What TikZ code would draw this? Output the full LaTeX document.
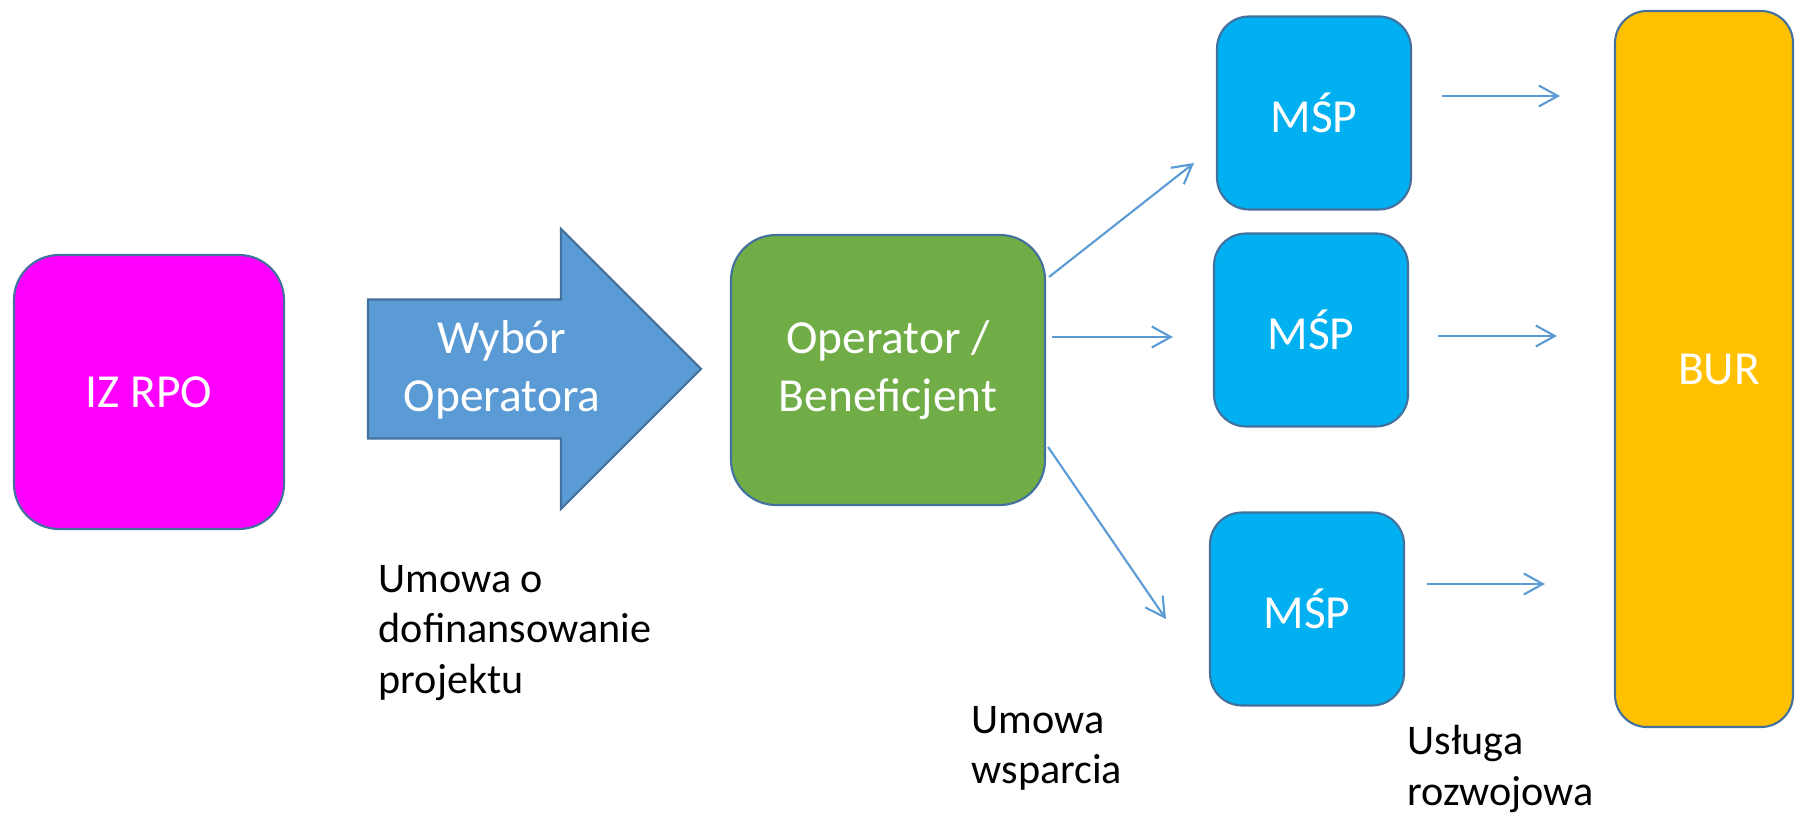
\documentclass[tikz,border=0pt]{standalone}
\usepackage{fontspec}
\setmainfont{Carlito}
\usetikzlibrary{calc}
\usetikzlibrary{arrows.meta}

\definecolor{edgeblue}{HTML}{41719C}
\definecolor{flowblue}{HTML}{5B9BD5}
\definecolor{izpink}{HTML}{FF00FF}
\definecolor{opgreen}{HTML}{70AD47}
\definecolor{mspblue}{HTML}{00B0F0}
\definecolor{burgold}{HTML}{FFC000}

\tikzset{
    block/.style = {rectangle, draw = edgeblue, line width = 0.6pt, text = white, align = center,
        font = \fontsize{13.5}{16.5}\selectfont},
    mspbox/.style = {block, fill = mspblue, minimum width = 1.94cm, minimum height = 1.93cm,
        rounded corners = 0.32cm},
    flow/.style = {draw = flowblue, line width = 0.6pt, -{Straight Barb[length=1.9mm,width=2.1mm]}},
    caption/.style = {anchor = west, inner sep = 0pt, align = left,
        font = \fontsize{12}{14.3}\selectfont}
}

\begin{document}
\begin{tikzpicture}
        \useasboundingbox (0,0) rectangle (17.96,8.14);

        \node[block, fill = izpink,
            minimum width = 2.70cm,
            minimum height = 2.74cm,
            rounded corners = 0.45cm] (iz) at (1.49,4.22) {IZ RPO};

        % big arrow
        \draw[draw = edgeblue, line width = 0.6pt, fill = flowblue] (3.68,3.755) -- (3.68,5.145) -- (5.61,5.145) -- (5.61,5.85) -- (7.01,4.45) -- (5.61,3.05) -- (5.61,3.755) -- cycle;
        \node[text = white, align = center, font = \fontsize{13.5}{16.5}\selectfont] (sel) at (5.02,4.44) {Wybór\\Operatora};

        \node[block, fill = opgreen,
            minimum width = 3.14cm,
            minimum height = 2.70cm,
            rounded corners = 0.45cm] (op) at (8.88,4.44) {Operator /\\Beneficjent};

        \node[mspbox] (msp1) at (13.14,7.01) {MŚP};
        \node[mspbox] (msp2) at (13.11,4.84) {MŚP};
        \node[mspbox] (msp3) at (13.07,2.05) {MŚP};

        \node[block, fill = burgold,
            minimum width = 1.78cm,
            minimum height = 7.16cm,
            rounded corners = 0.32cm] (bur) at (17.04,4.45) {\hspace*{0.3cm}BUR};

        % operator -> MSP
        \draw[flow] ($(op.north east)+(0.03,-0.43)$) -- ($(msp1.west)+(-0.22,-0.50)$);
        \draw[flow] ($(op.east)+(0.06,0.33)$) coordinate (a2) -- ($(msp2.west |- a2)+(-0.40,0)$);
        \draw[flow] ($(op.east)+(0.02,-0.77)$) -- ($(msp3.west)+(-0.43,-0.10)$);

        % MSP -> BUR
        \draw[flow] ($(msp1.east)+(0.30,0.17)$) coordinate (b1) -- ($(bur.west |- b1)+(-0.54,0)$);
        \draw[flow] ($(msp2.east)+(0.29,-0.06)$) coordinate (b2) -- ($(bur.west |- b2)+(-0.57,0)$);
        \draw[flow] ($(msp3.east)+(0.22,0.25)$) coordinate (b3) -- ($(bur.west |- b3)+(-0.69,0)$);

        \node[caption] (umowa) at (3.78,1.81) {Umowa o\\dofinansowanie\\projektu};
        \node[caption] (wsparcie) at (9.71,0.66) {Umowa\\wsparcia};
        \node[caption] (usluga) at (14.07,0.45) {Usługa\\rozwojowa};

\end{tikzpicture}
\end{document}
